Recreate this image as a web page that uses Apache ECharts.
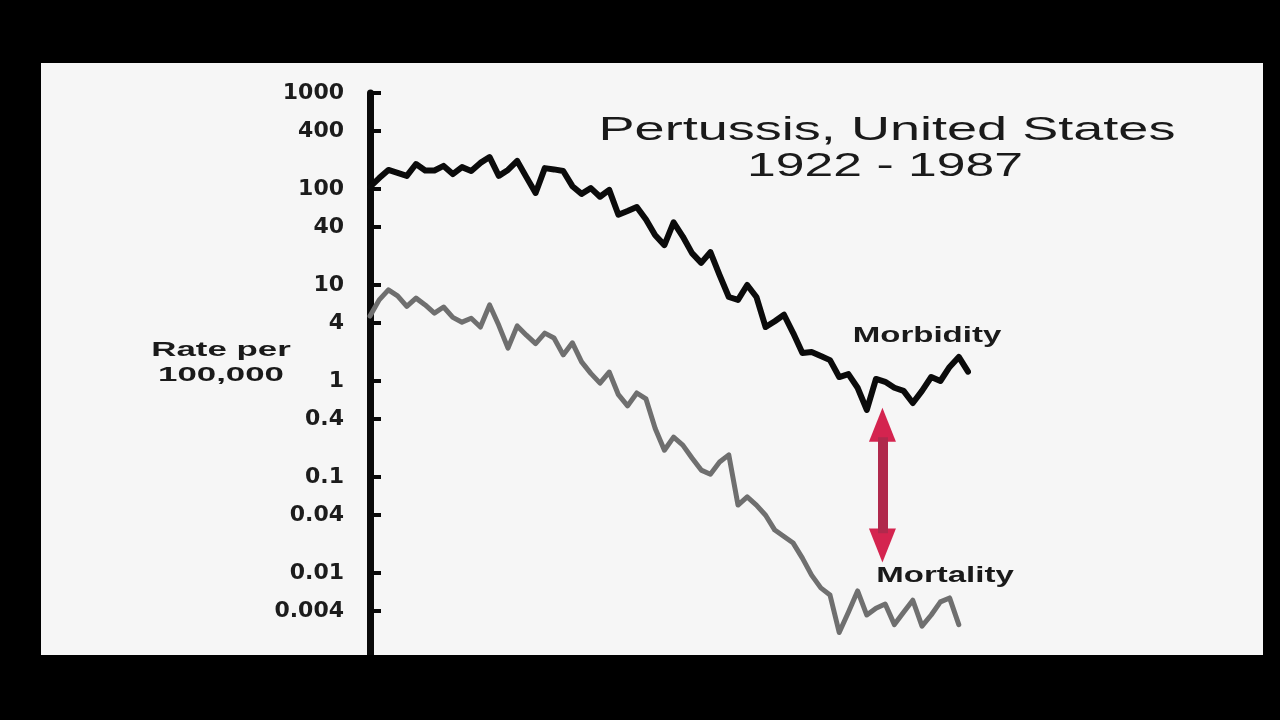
<!DOCTYPE html>
<html>
<head>
<meta charset="utf-8">
<script src="https://cdn.jsdelivr.net/npm/echarts@6/dist/echarts.min.js"></script>
<style>
html,body{margin:0;padding:0;background:#000;}
#c{width:1280px;height:720px;}
</style>
</head>
<body>
<div id="c"></div>
<script>
// ---- data ----
const years = [1922,1923,1924,1925,1926,1927,1928,1929,1930,1931,1932,1933,1934,1935,1936,1937,1938,1939,1940,1941,1942,1943,1944,1945,1946,1947,1948,1949,1950,1951,1952,1953,1954,1955,1956,1957,1958,1959,1960,1961,1962,1963,1964,1965,1966,1967,1968,1969,1970,1971,1972,1973,1974,1975,1976,1977,1978,1979,1980,1981,1982,1983,1984,1985,1986,1987];
const morbidity = [105,130,158,147,137,182,156,156,174,143,169,154,187,215,137,158,196,133,91,165,160,154,107,89,102,83,98,54,59,65,48,33,26,45,32,21.5,17,22,12.7,7.5,7.0,10,7.5,3.65,4.2,4.9,3.16,1.96,2.0,1.82,1.65,1.1,1.18,0.85,0.50,1.05,0.98,0.85,0.79,0.59,0.79,1.1,1.0,1.4,1.78,1.25];
const mortality = [4.75,7.0,8.9,7.7,6.0,7.3,6.2,5.1,5.9,4.6,4.1,4.5,3.65,6.2,3.8,2.2,3.75,3.0,2.45,3.15,2.8,1.87,2.5,1.58,1.2,0.95,1.24,0.72,0.55,0.75,0.65,0.32,0.19,0.26,0.215,0.158,0.118,0.107,0.143,0.17,0.051,0.062,0.051,0.040,0.028,0.024,0.0205,0.0143,0.0095,0.0070,0.0059,0.0024,0.0039,0.0065,0.00365,0.0043,0.00475,0.0029,0.0039,0.0052,0.0028,0.00365,0.0050,0.0055,0.0029];
const tickValues = [0.001,0.004,0.01,0.04,0.1,0.4,1,4,10,40,100,400,1000];
const tickLabels = ['0.001','0.004','0.01','0.04','0.1','0.4','1','4','10','40','100','400','1000'];
const arrowYear = 1977.7;
const arrowTop = 0.35;
const arrowBottom = 0.0193;
const shaftTop = 0.26;
const shaftBottom = 0.026;

const morbData = years.map((y, i) => [y, morbidity[i]]);
const mortData = years.slice(0, mortality.length).map((y, i) => [y, mortality[i]]);

const chart = echarts.init(document.getElementById('c'), null, {renderer: 'canvas'});

function labelFor(v) {
  let best = 0, bd = Infinity;
  for (let i = 0; i < tickValues.length; i++) {
    const d = Math.abs(Math.log10(v) - Math.log10(tickValues[i]));
    if (d < bd) { bd = d; best = i; }
  }
  return tickLabels[best];
}

chart.setOption({
  backgroundColor: '#000',
  animation: false,
  grid: {left: 370, right: 312, top: 93, bottom: 51, containLabel: false},
  xAxis: {
    type: 'value', min: 1922, max: 1987, show: false,
    splitLine: {show: false}
  },
  yAxis: {
    type: 'log', logBase: 10, min: 0.001, max: 1000,
    splitLine: {show: false},
    axisLine: {show: true, lineStyle: {color: '#0a0a0a', width: 7}},
    axisTick: {show: true, inside: true, length: 11, lineStyle: {color: '#0a0a0a', width: 4}, customValues: tickValues},
    axisLabel: {
      show: true, customValues: tickValues, margin: 26,
      color: '#1c1c1c', fontFamily: 'DejaVu Sans', fontWeight: 'bold', fontSize: 22,
      formatter: labelFor
    },
    minorTick: {show: false}
  },
  series: [
    {
      name: 'Morbidity', type: 'line', data: morbData, showSymbol: false, symbol: 'none',
      lineStyle: {color: '#0b0b0b', width: 6, join: 'round', cap: 'round'}, z: 3,
      markLine: {
        silent: true, symbol: ['triangle', 'triangle'], symbolSize: [27, 34],
        label: {show: false},
        lineStyle: {color: '#d4244f', width: 10, type: 'solid'},
        emphasis: {disabled: true},
        data: [
          [{coord: [arrowYear, arrowTop]}, {coord: [arrowYear, arrowBottom]}],
          [{coord: [arrowYear, shaftTop], symbol: 'none', lineStyle: {color: '#b0294c', width: 10}},
           {coord: [arrowYear, shaftBottom], symbol: 'none'}]
        ]
      }
    },
    {
      name: 'Mortality', type: 'line', data: mortData, showSymbol: false, symbol: 'none',
      lineStyle: {color: '#6f6f6f', width: 5, join: 'round', cap: 'round'}, z: 2
    }
  ],
  graphic: [
    {type: 'rect', z: -100, silent: true, shape: {x: 41, y: 63, width: 1222, height: 592}, style: {fill: '#f6f6f6'}},
    {type: 'text', z: 50, x: 887, y: 131, scaleX: 1.59, style: {text: 'Pertussis, United States', fill: '#1a1a1a', font: '34px "Liberation Sans"', align: 'center', verticalAlign: 'middle'}},
    {type: 'text', z: 50, x: 885, y: 167, scaleX: 1.52, style: {text: '1922 - 1987', fill: '#1a1a1a', font: '34px "Liberation Sans"', align: 'center', verticalAlign: 'middle'}},
    {type: 'text', z: 50, x: 221, y: 350, scaleX: 1.66, style: {text: 'Rate per', fill: '#1a1a1a', font: 'bold 21px "Liberation Sans"', align: 'center', verticalAlign: 'middle'}},
    {type: 'text', z: 50, x: 221, y: 375, scaleX: 1.66, style: {text: '100,000', fill: '#1a1a1a', font: 'bold 21px "Liberation Sans"', align: 'center', verticalAlign: 'middle'}},
    {type: 'text', z: 50, x: 927, y: 336, scaleX: 1.5, style: {text: 'Morbidity', fill: '#1a1a1a', font: 'bold 22px "Liberation Sans"', align: 'center', verticalAlign: 'middle'}},
    {type: 'text', z: 50, x: 945, y: 576, scaleX: 1.5, style: {text: 'Mortality', fill: '#1a1a1a', font: 'bold 22px "Liberation Sans"', align: 'center', verticalAlign: 'middle'}},
    {type: 'rect', z: 100, silent: true, shape: {x: 0, y: 655, width: 1280, height: 65}, style: {fill: '#000'}}
  ]
});
</script>
</body>
</html>
